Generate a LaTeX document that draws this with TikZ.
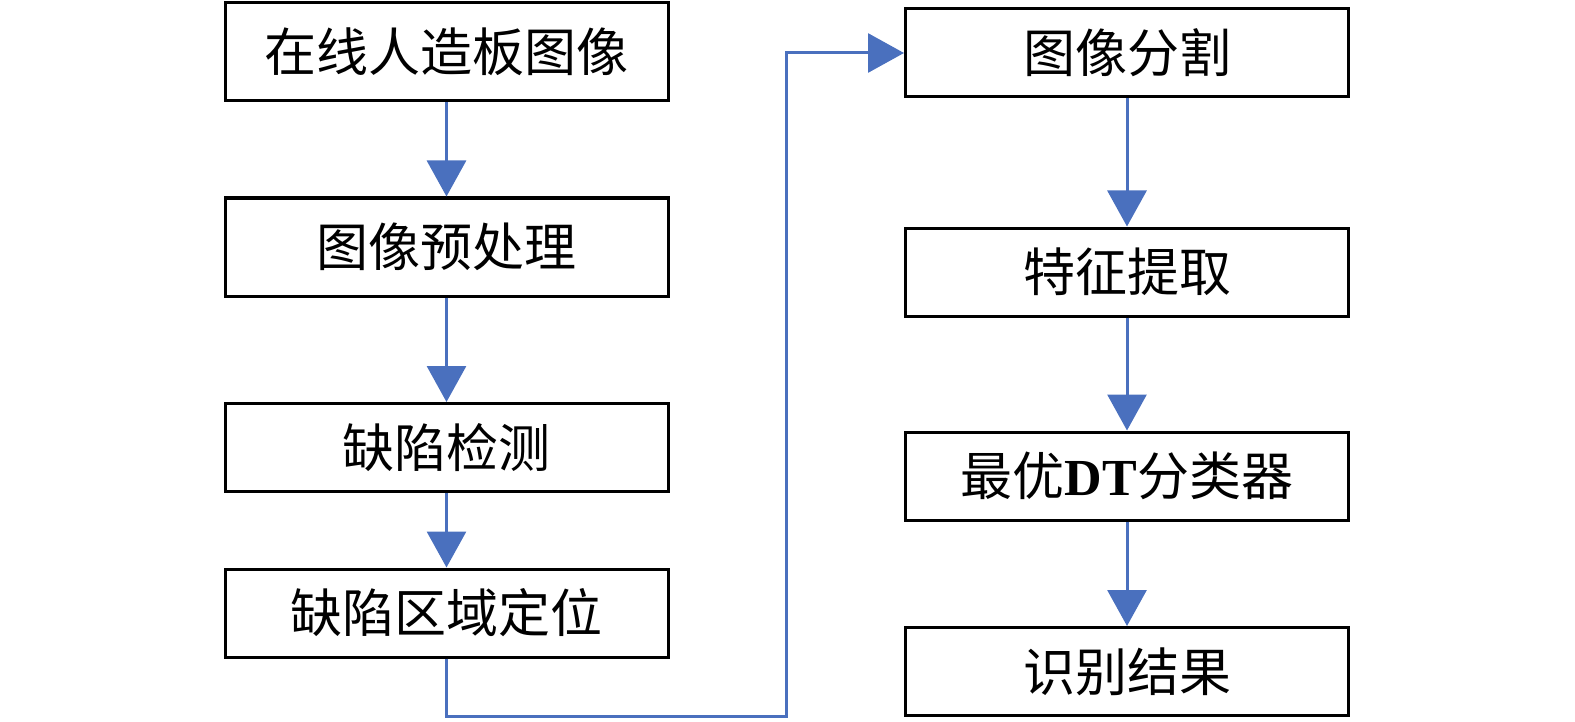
\documentclass[tikz,border=0pt]{standalone}
\usepackage{fontspec}
\newfontfamily\cjk{Noto Sans CJK SC}
\newfontfamily\latinserif{Liberation Serif}
\usetikzlibrary{arrows.meta}
\definecolor{connblue}{HTML}{4A70BE}
\tikzset{
  box/.style={draw=black, line width=1.5pt, minimum width=221.5pt, inner sep=0pt,
    font=\cjk\fontsize{26pt}{30pt}\selectfont, text=black},
  tall/.style={minimum height=49pt},
  short/.style={minimum height=44pt},
  conn/.style={draw=connblue, line width=1.5pt,
    -{Triangle[width=19.5pt,length=18pt]}},
}
\begin{document}
\begin{tikzpicture}[x=0.5pt,y=-0.5pt]
\useasboundingbox (0,0) rectangle (1575,722);
\node[box,tall]  (b1) at (446.5,52)  {在线人造板图像};
\node[box,tall]  (b2) at (446.5,247) {图像预处理};
\node[box,short] (b3) at (446.5,447.5) {缺陷检测};
\node[box,short] (b4) at (446.5,613) {缺陷区域定位};
\node[box,short] (b5) at (1127,53)   {图像分割};
\node[box,short] (b6) at (1127,272)  {特征提取};
\node[box,short] (b7) at (1127,476)  {最优{\latinserif\bfseries DT}分类器};
\node[box,short] (b8) at (1127,671.5) {识别结果};
\coordinate (c2) at (786,716);
\draw[conn] (b1) -- (b2);
\draw[conn] (b2) -- (b3);
\draw[conn] (b3) -- (b4);
\draw[conn] (b4.south) |- (c2) |- (b5.west);
\draw[conn] (b5) -- (b6);
\draw[conn] (b6) -- (b7);
\draw[conn] (b7) -- (b8);
\end{tikzpicture}
\end{document}
